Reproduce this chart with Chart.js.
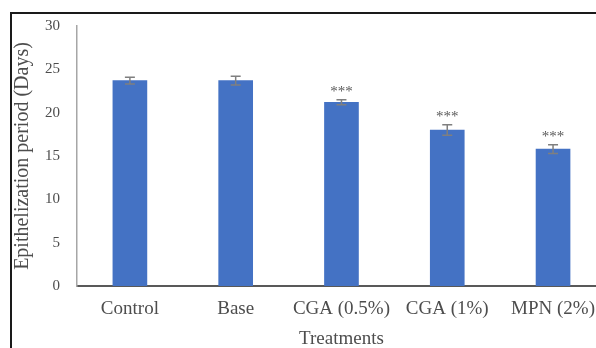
<!DOCTYPE html>
<html>
<head>
<meta charset="utf-8">
<script src="https://cdn.jsdelivr.net/npm/chart.js@4"></script>
<style>
  html, body { margin: 0; padding: 0; background: #fff; overflow: hidden; width: 596px; height: 348px; }
  #wrap { position: relative; width: 596px; height: 348px; overflow: hidden; }
  #frame { position: absolute; left: 10px; top: 12px; width: 620px; height: 360px;
           border-left: 2px solid #1a1a1a; border-top: 2px solid #1a1a1a; box-sizing: border-box; pointer-events: none; }
  canvas { position: absolute; left: 0; top: 0; }
</style>
</head>
<body>
<div id="wrap">
  <canvas id="chart" width="607" height="350"></canvas>
  <div id="frame"></div>
</div>
<script>
// Treatment groups and their mean epithelization period (days) with error
const categories = ['Control', 'Base', 'CGA (0.5%)', 'CGA (1%)', 'MPN (2%)'];
const meanDays = [23.7, 23.7, 21.2, 18.0, 15.8];
const errorDays = [0.4, 0.5, 0.3, 0.6, 0.5];
const significance = ['', '', '***', '***', '***'];
const yTicks = [0, 5, 10, 15, 20, 25, 30];

const serif = '"Liberation Serif", "Times New Roman", serif';
const textColor = '#4d4d4d';

// Draws error bars and significance markers on top of the bars
const errorBarPlugin = {
  id: 'errorBars',
  afterDatasetsDraw(chart) {
    const { ctx, scales: { y } } = chart;
    const meta = chart.getDatasetMeta(0);
    ctx.save();
    meta.data.forEach((bar, i) => {
      const x = bar.x;
      const yTop = y.getPixelForValue(meanDays[i] + errorDays[i]);
      const yBot = y.getPixelForValue(meanDays[i] - errorDays[i]);
      ctx.strokeStyle = '#7f7f7f';
      ctx.lineWidth = 1.5;
      ctx.beginPath();
      ctx.moveTo(x, yTop); ctx.lineTo(x, yBot);
      ctx.moveTo(x - 5, yTop); ctx.lineTo(x + 5, yTop);
      ctx.moveTo(x - 5, yBot); ctx.lineTo(x + 5, yBot);
      ctx.stroke();
      if (significance[i]) {
        ctx.fillStyle = '#595959';
        ctx.font = '15px ' + serif;
        ctx.textAlign = 'center';
        ctx.textBaseline = 'alphabetic';
        ctx.fillText(significance[i], x, yTop - 4);
      }
    });
    ctx.restore();
  }
};

new Chart(document.getElementById('chart'), {
  type: 'bar',
  data: {
    labels: categories,
    datasets: [{
      data: meanDays,
      backgroundColor: '#4472C4',
      borderWidth: 0,
      barThickness: 34
    }]
  },
  options: {
    responsive: false,
    animation: false,
    devicePixelRatio: 1,
    layout: { padding: { left: 0, right: 0, top: 26, bottom: 0 } },
    plugins: { legend: { display: false }, tooltip: { enabled: false } },
    scales: {
      x: {
        grid: { display: false, drawTicks: false },
        border: { display: true, color: '#595959', width: 2 },
        ticks: {
          color: textColor, padding: 12, maxRotation: 0, autoSkip: false,
          font: { family: serif, size: 19 }
        },
        title: {
          display: true, text: 'Treatments', color: textColor,
          font: { family: serif, size: 19 }, padding: { top: 0, bottom: 0 }
        },
        afterFit(scale) { scale.height = 64; }
      },
      y: {
        min: 0, max: 30,
        afterBuildTicks(scale) { scale.ticks = yTicks.map(v => ({ value: v })); },
        grid: { display: false, drawTicks: false },
        border: { display: true, color: '#a6a6a6', width: 1.5 },
        ticks: {
          color: textColor, padding: 17,
          font: { family: serif, size: 15 }
        },
        title: {
          display: true, text: 'Epithelization period (Days)', color: textColor,
          font: { family: serif, size: 20 }, padding: { top: 11, bottom: 0 }
        },
        afterFit(scale) { scale.width = 77; }
      }
    }
  },
  plugins: [errorBarPlugin]
});
</script>
</body>
</html>
